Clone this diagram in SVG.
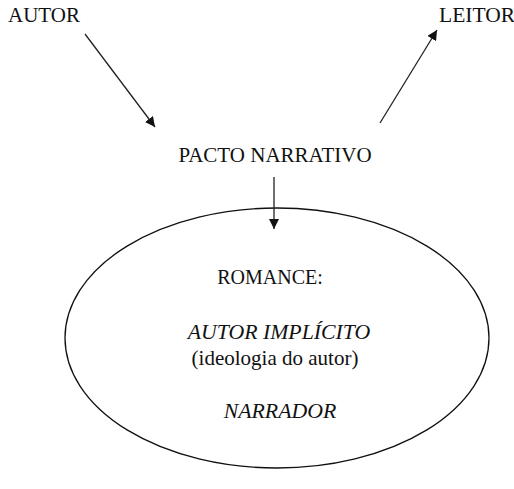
<svg xmlns="http://www.w3.org/2000/svg" width="514" height="489" viewBox="0 0 514 489">
<defs>
<marker id="ah" viewBox="0 0 10 10" refX="10" refY="5" markerWidth="10" markerHeight="10" markerUnits="userSpaceOnUse" orient="auto">
<path d="M0,0 L10,5 L0,10 z" fill="#111"/>
</marker>
<style>
.c{text-anchor:middle}
.i{font-style:italic;font-size:21.8px}
.ln{stroke:#222;stroke-width:1.3;fill:none;marker-end:url(#ah)}
</style>
</defs>
<rect width="514" height="489" fill="#fff"/>
<g font-family="'Liberation Serif', 'DejaVu Serif', serif" font-size="21" fill="#111">
<g id="autor"><text x="8" y="22">AUTOR</text></g>
<g id="leitor"><text x="439" y="22" font-size="21.5">LEITOR</text></g>
<g id="pacto"><text class="c" x="275" y="162">PACTO NARRATIVO</text></g>
<g id="romance">
<ellipse cx="277" cy="338" rx="212" ry="130" fill="none" stroke="#111" stroke-width="1.3"/>
<text class="c" x="270" y="284" font-size="20">ROMANCE:</text>
<text class="c i" x="279" y="339">AUTOR IMPLÍCITO</text>
<text class="c" x="275" y="365">(ideologia do autor)</text>
<text class="c i" x="280" y="418">NARRADOR</text>
</g>
</g>
<g id="connectors">
<line class="ln" x1="85" y1="34" x2="155" y2="127"/>
<line class="ln" x1="380" y1="123" x2="437" y2="30"/>
<line class="ln" x1="274" y1="177" x2="274" y2="229"/>
</g>
</svg>
